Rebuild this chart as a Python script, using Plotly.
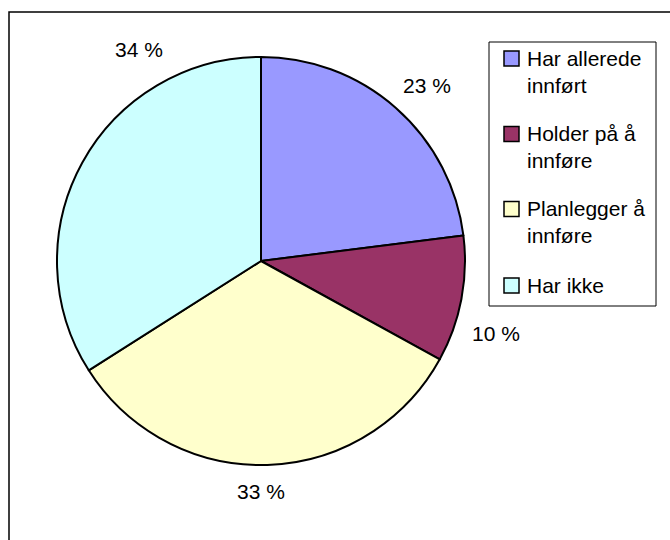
import plotly.graph_objects as go

W, H = 670, 540

categories = ["Har allerede<br>innført", "Holder på å<br>innføre", "Planlegger å<br>innføre", "Har ikke"]
values = [23, 10, 33, 34]
colors = ["#9999FF", "#993366", "#FFFFCC", "#CCFFFF"]

# layout-only positions (pixels)
label_pos = [(427, 85), (496, 333), (261, 491), (139, 49)]
legend_key_y = [58.5, 134, 209, 285.5]
legend_text_y = [72, 147, 222, 285]

FONT = "Liberation Sans, Arial, sans-serif"
FS = 21


def px(x):
    return x / W


def py(y):
    return 1 - y / H


cx, cy, r = 261, 261, 204

fig = go.Figure(go.Pie(
    labels=[c.replace("<br>", " ") for c in categories],
    values=values,
    sort=False,
    direction="clockwise",
    rotation=0,
    marker=dict(colors=colors, line=dict(color="#000000", width=2)),
    textinfo="none",
    hoverinfo="label+percent",
    domain=dict(x=[px(cx - r), px(cx + r)], y=[py(cy + r), py(cy - r)]),
    showlegend=False,
))

annotations = []
for v, (x, y) in zip(values, label_pos):
    annotations.append(dict(
        x=px(x), y=py(y), xref="paper", yref="paper",
        text=f"{v} %", showarrow=False, xanchor="center", yanchor="middle",
        font=dict(family=FONT, size=FS, color="#000000"),
    ))

shapes = [
    # outer chart border
    dict(type="rect", xref="paper", yref="paper",
         x0=px(9), x1=1.2, y0=-0.2, y1=py(12),
         line=dict(color="#000000", width=1.5)),
    # legend box
    dict(type="rect", xref="paper", yref="paper",
         x0=px(489), x1=px(656), y0=py(306), y1=py(42),
         line=dict(color="#000000", width=1), fillcolor="white", layer="below"),
]

key = 15
for cat, col, ky, ty in zip(categories, colors, legend_key_y, legend_text_y):
    shapes.append(dict(
        type="rect", xref="paper", yref="paper",
        x0=px(504), x1=px(504 + key), y0=py(ky + key / 2), y1=py(ky - key / 2),
        line=dict(color="#000000", width=1.5), fillcolor=col,
    ))
    annotations.append(dict(
        x=px(525), y=py(ty), xref="paper", yref="paper",
        text=cat, showarrow=False, xanchor="left", yanchor="middle", align="left",
        font=dict(family=FONT, size=FS, color="#000000"),
    ))

fig.update_layout(
    width=W, height=H,
    margin=dict(l=0, r=0, t=0, b=0),
    paper_bgcolor="white",
    plot_bgcolor="white",
    showlegend=False,
    annotations=annotations,
    shapes=shapes,
)

fig.write_html("out.html")
